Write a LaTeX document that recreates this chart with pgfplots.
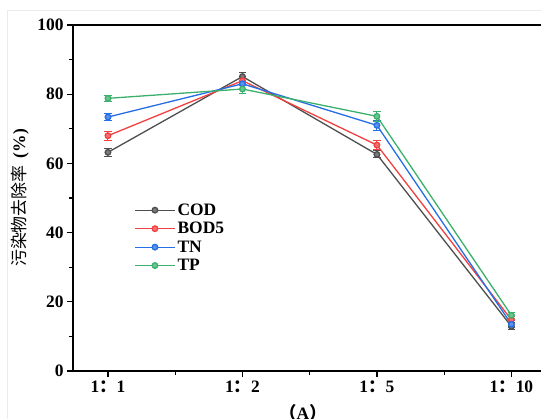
\documentclass[border=0pt]{standalone}
\usepackage{fontspec}
\setmainfont{Liberation Serif}
\newfontfamily\cjk{Noto Sans CJK SC}
\usepackage{pgfplots}
\usepackage{pgfplotstable}
\pgfplotsset{compat=1.18}

\definecolor{codc}{RGB}{78,78,78}
\definecolor{bodc}{RGB}{242,63,63}
\definecolor{tnc}{RGB}{36,110,230}
\definecolor{tpc}{RGB}{58,176,108}

% x = ratio index, y = removal rate, e = error
\pgfplotstableread{
x y e
0 63.2 1.2
1 85.1 1.3
2 62.6 1.0
3 12.9 1.0
}\cod
\pgfplotstableread{
x y e
0 68.0 1.3
1 83.9 1.3
2 65.3 1.3
3 14.8 1.0
}\bod
\pgfplotstableread{
x y e
0 73.4 1.0
1 83.0 1.5
2 71.0 1.4
3 13.5 1.0
}\tn
\pgfplotstableread{
x y e
0 78.8 0.9
1 81.5 1.2
2 73.6 1.5
3 16.1 0.9
}\tp

\newcommand{\bigbf}{\fontsize{17.5}{20}\selectfont\bfseries}

\begin{document}
\begin{tikzpicture}
\path[use as bounding box] (-73bp,-48bp) rectangle (468bp,371bp);
\clip (-73bp,-48bp) rectangle (468bp,371bp);
\draw[black!8] (-66bp,-60bp) -- (-66bp,361bp) -- (480bp,361bp);
\begin{axis}[
  at={(0,0)}, anchor=south west,
  scale only axis, width=470bp, height=346bp,
  xmin=-0.26, xmax=3.235, ymin=0, ymax=100,
  xtick={0,1,2,3},
  xticklabels={1{\cjk ：}1,1{\cjk ：}2,1{\cjk ：}5,1{\cjk ：}10},
  minor xtick={0.5,1.5,2.5},
  ytick={0,20,40,60,80,100},
  minor ytick={10,30,50,70,90},
  xtick pos=bottom, ytick pos=left,
  tick align=outside,
  major tick length=6bp, minor tick length=3.5bp,
  every tick/.style={black, line width=1.2bp},
  axis line style={line width=1.2bp},
  ticklabel style={font=\bigbf},
  /pgf/number format/assume math mode=true,
  every axis y label/.style={at={(axis description cs:-0.113,0.5)}, rotate=90, anchor=center},
  ylabel={{\fontsize{17}{20}\selectfont\cjk 污染物去除率\,}{\bigbf\ (\%)}},
  every axis x label/.style={at={(axis description cs:0.4894,0)}, anchor=north, yshift=-30bp},
  xlabel={{\bigbf\cjk （}{\bigbf A}{\bigbf\cjk ）}},
  legend style={at={(axis description cs:0.13,0.49)}, anchor=north west,
    draw=none, fill=none, font=\bigbf, row sep=1.5bp, inner sep=0pt},
  legend cell align=left,
  legend image code/.code={\draw[mark repeat=2,mark phase=2] plot coordinates {(0bp,0bp)(20bp,0bp)(40bp,0bp)};},
  every axis plot/.append style={line width=1.3bp, mark=*, mark size=2.8bp},
  error bars/error bar style={line width=1bp},
  error bars/error mark options={rotate=90, mark size=3.8bp, line width=1bp},
]
\addplot[codc, mark options={fill=codc!75!white}, error bars/.cd, y dir=both, y explicit]
  table[x=x, y=y, y error=e]{\cod};
\addplot[bodc, mark options={fill=bodc!75!white}, error bars/.cd, y dir=both, y explicit]
  table[x=x, y=y, y error=e]{\bod};
\addplot[tnc, mark options={fill=tnc!75!white}, error bars/.cd, y dir=both, y explicit]
  table[x=x, y=y, y error=e]{\tn};
\addplot[tpc, mark options={fill=tpc!75!white}, error bars/.cd, y dir=both, y explicit]
  table[x=x, y=y, y error=e]{\tp};
\legend{COD,BOD5,TN,TP}
\end{axis}
\end{tikzpicture}
\end{document}
